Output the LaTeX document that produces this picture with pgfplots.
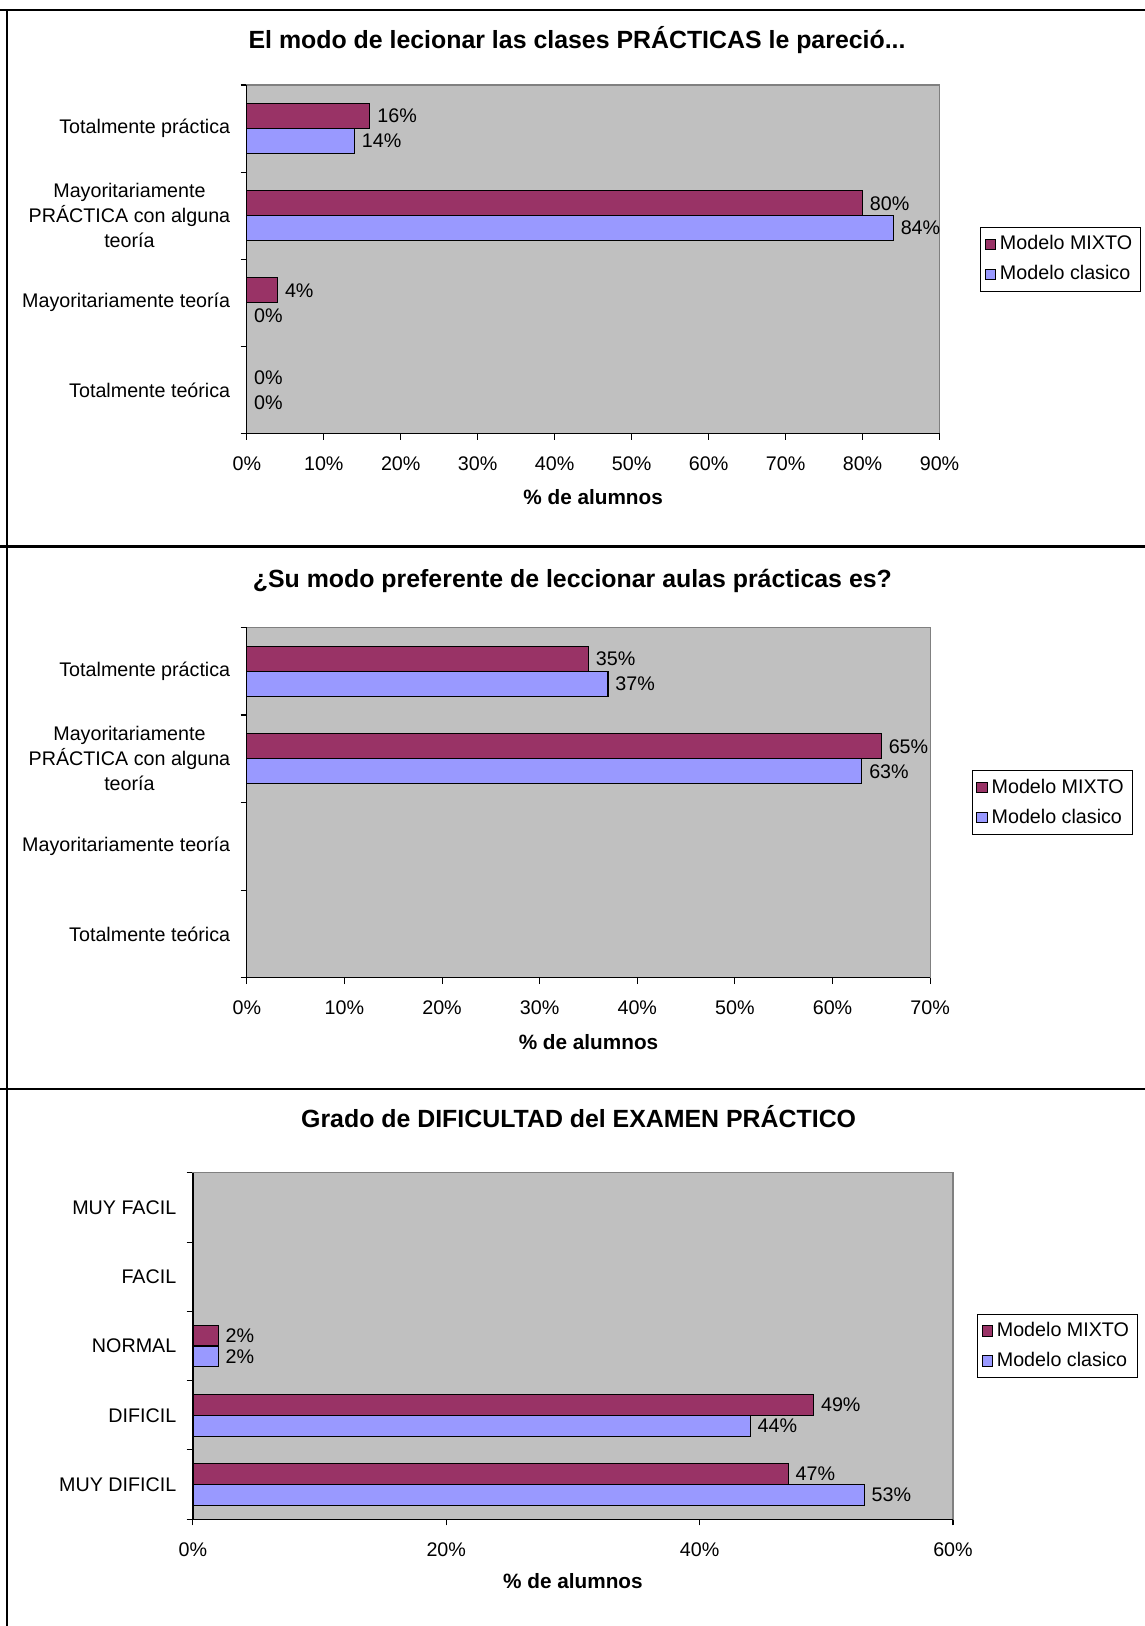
\documentclass[border=0pt]{standalone}
\usepackage{fontspec}
\setmainfont{Liberation Sans}
\usepackage{pgfplots}
\pgfplotsset{compat=1.18}

\definecolor{mixto}{RGB}{153,51,102}
\definecolor{clasico}{RGB}{153,153,255}
\definecolor{plotbg}{RGB}{192,192,192}
\definecolor{plotframe}{RGB}{128,128,128}

\newcommand{\lbl}{\fontsize{9.5}{12}\selectfont}
\newcommand{\ttl}{\bfseries\fontsize{12}{14}\selectfont}
\newcommand{\axl}{\bfseries\fontsize{10}{12}\selectfont}

\pgfplotsset{
  encuesta/.style={
    scale only axis,
    xbar,
    xmin=0,
    axis background/.style={fill=plotbg},
    axis line style={draw=plotframe, line width=0.5pt},
    tick align=outside,
    xtick pos=left,
    ytick pos=left,
    major tick length=3pt,
    tick style={black, line width=0.5pt},
    /pgf/number format/assume math mode=true,
    xticklabel={\pgfmathprintnumber{\tick}\%},
    xticklabel style={font=\lbl, inner sep=0pt, anchor=north, yshift=-8pt},
    yticklabels={},
    extra y tick style={tick style={draw=none}},
    yticklabel style={font=\lbl, align=center, inner sep=0pt, anchor=east, xshift=-4.8pt},
    point meta=x,
    nodes near coords={\pgfmathprintnumber{\pgfplotspointmeta}\%},
    nodes near coords style={font=\lbl, text=black},
    legend cell align=left,
    legend style={at={(1,0.5)}, anchor=west, draw=black, line width=0.5pt,
      fill=white, font=\lbl, inner xsep=2pt, inner ysep=2pt, row sep=2pt},
    legend image code/.code={\draw[#1, draw=black, line width=0.4pt] (0pt,-2.5pt) rectangle (5pt,2.5pt);},
    every axis plot/.append style={draw=black, line width=0.5pt},
    after end axis/.code={\draw[black, line width=0.6pt] (rel axis cs:0,1) -- (rel axis cs:0,0) -- (rel axis cs:1,0);},
  },
}

\begin{document}
\begin{tikzpicture}
\useasboundingbox (0,0) rectangle (552pt,784pt);

% outer frame and panel separators
\draw[line width=1pt] (0,779pt) -- (552pt,779pt);
\draw[line width=1pt] (0,520.5pt) -- (552pt,520.5pt);
\draw[line width=1pt] (0,259pt) -- (552pt,259pt);
\draw[line width=1pt] (3.5pt,0) -- (3.5pt,779pt);

% ---------- panel 1 ----------
\node[anchor=base, font=\ttl] at (278.25pt,760.75pt) {El modo de lecionar las clases PRÁCTICAS le pareció...};
\begin{axis}[encuesta,
  at={(119pt,575pt)}, anchor=south west,
  width=334pt, height=168pt,
  xmax=90, xtick={0,10,...,90},
  ymin=-0.5, ymax=3.5,
  ytick={-0.5,0.5,1.5,2.5,3.5},
  extra y ticks={0,1,2,3},
  extra y tick labels={{Totalmente teórica},{Mayoritariamente teoría},{Mayoritariamente\\PRÁCTICA con alguna\\teoría},{Totalmente práctica}},
  bar width=0.286,
  legend style={xshift=19.5pt},
]
\addplot[fill=mixto, bar shift=0.143] coordinates {(16,3) (80,2) (4,1) (0,0)};
\addplot[fill=clasico, bar shift=-0.143] coordinates {(14,3) (84,2) (0,1) (0,0)};
\legend{Modelo MIXTO, Modelo clasico}
\end{axis}
\node[anchor=base, font=\axl] at (286pt,540.5pt) {\% de alumnos};

% ---------- panel 2 ----------
\node[anchor=base, font=\ttl] at (276pt,500.75pt) {¿Su modo preferente de leccionar aulas prácticas es?};
\begin{axis}[encuesta,
  at={(119pt,312.5pt)}, anchor=south west,
  width=329.5pt, height=169pt,
  xmax=70, xtick={0,10,...,70},
  ymin=-0.5, ymax=3.5,
  ytick={-0.5,0.5,1.5,2.5,3.5},
  extra y ticks={0,1,2,3},
  extra y tick labels={{Totalmente teórica},{Mayoritariamente teoría},{Mayoritariamente\\PRÁCTICA con alguna\\teoría},{Totalmente práctica}},
  bar width=0.284,
  legend style={xshift=20pt},
]
\addplot[fill=mixto, bar shift=0.142] coordinates {(35,3) (65,2)};
\addplot[fill=clasico, bar shift=-0.142] coordinates {(37,3) (63,2)};
\legend{Modelo MIXTO, Modelo clasico}
\end{axis}
\node[anchor=base, font=\axl] at (283.75pt,278pt) {\% de alumnos};

% ---------- panel 3 ----------
\node[anchor=base, font=\ttl] at (279pt,240.25pt) {Grado de DIFICULTAD del EXAMEN PRÁCTICO};
\begin{axis}[encuesta,
  at={(93pt,51.5pt)}, anchor=south west,
  width=366.5pt, height=167pt,
  xmax=60, xtick={0,20,...,60},
  ymin=-0.5, ymax=4.5,
  ytick={-0.5,0.5,1.5,2.5,3.5,4.5},
  extra y ticks={0,1,2,3,4},
  extra y tick labels={{MUY DIFICIL},{DIFICIL},{NORMAL},{FACIL},{MUY FACIL}},
  bar width=0.3,
  legend style={xshift=11.5pt},
]
\addplot[fill=mixto, bar shift=0.15] coordinates {(2,2) (49,1) (47,0)};
\addplot[fill=clasico, bar shift=-0.15] coordinates {(2,2) (44,1) (53,0)};
\legend{Modelo MIXTO, Modelo clasico}
\end{axis}
\node[anchor=base, font=\axl] at (276.25pt,18pt) {\% de alumnos};
\end{tikzpicture}
\end{document}
